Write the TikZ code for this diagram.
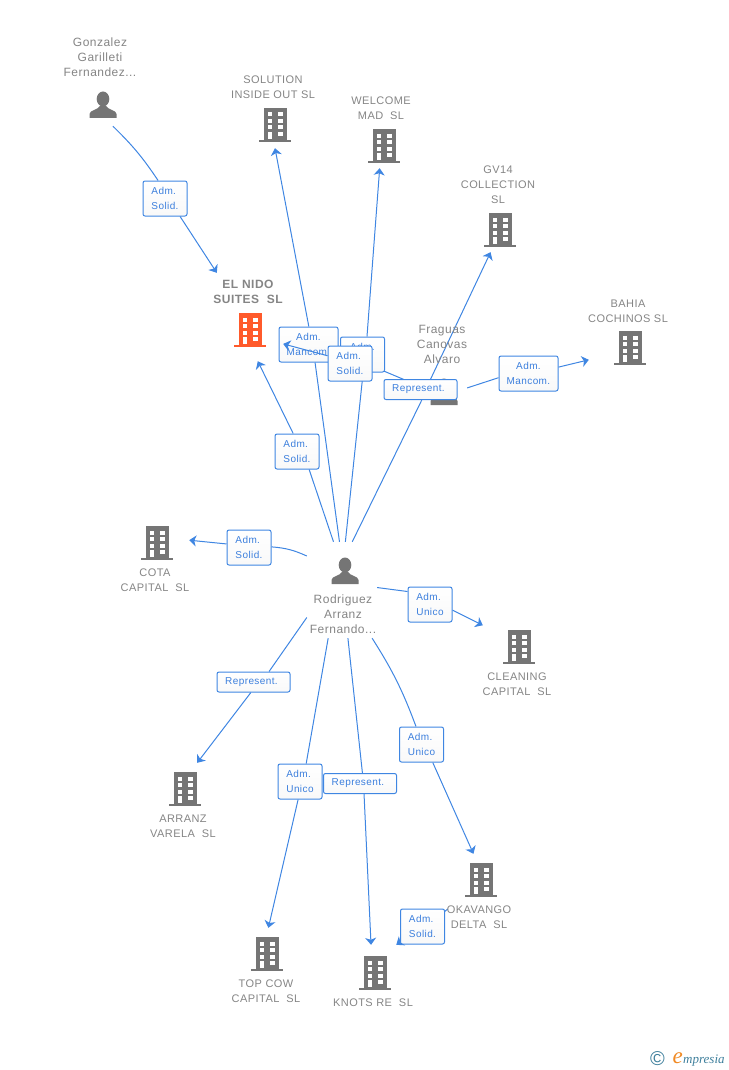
\documentclass[tikz,border=0pt]{standalone}
\usepackage{fontspec}
\setmainfont[LetterSpace=4]{Liberation Sans}
\newfontfamily\logofont{Liberation Serif}
\usetikzlibrary{arrows.meta}
\usetikzlibrary{backgrounds}
\definecolor{linkblue}{HTML}{3F86E2}
\definecolor{labelblue}{HTML}{3C7FDD}
\definecolor{icongray}{HTML}{757575}
\definecolor{textgray}{HTML}{858585}
\definecolor{iconred}{HTML}{FF5A2B}
\definecolor{logoteal}{HTML}{3E7F9C}
\definecolor{logoorange}{HTML}{F08A24}
\tikzset{
	link/.style={linkblue,line width=1pt},
	arrowlink/.style={link,-{Stealth[length=7pt,width=11pt,inset=2pt]}},
	tag/.style={draw=linkblue,line width=1pt,rounded corners=2pt,top color=white,bottom color=white!95!gray,text=labelblue,
		font=\fontsize{10}{15}\selectfont,align=left,inner sep=0pt,minimum width=44pt,minimum height=35pt},
	widetag/.style={tag,align=center,minimum width=59pt},
	onetag/.style={tag,align=center,minimum width=73pt,minimum height=20pt},
	box/.style 2 args={inner sep=0pt,minimum width=#1pt,minimum height=#2pt},
	company/.style={text=textgray,font=\fontsize{11}{15}\selectfont,align=center,inner sep=0pt},
	person/.style={text=textgray,font=\fontsize{12}{15}\selectfont,align=center,inner sep=0pt},
	pics/bldg/.style={code={
		\fill[#1] (-11.5,-17) rectangle (11.5,15);
		\fill[#1] (-16,15) rectangle (16,17);
		\foreach \wy in {-12.5,-6,0.5} {
			\fill[white] (-7.5,\wy) rectangle (-2.8,\wy+4);
			\fill[white] (2.8,\wy) rectangle (7.5,\wy+4);
		}
		\fill[white] (-7.5,6.8) rectangle (-2.8,14);
		\fill[white] (2.8,6.8) rectangle (7.5,10.8);
	}},
	pics/man/.style={code={
		\fill[icongray] (0,-6) ellipse (6.3 and 7.5);
		\fill[icongray] (-13.5,13) -- (-13.5,9) .. controls (-13.5,5) and (-5,5) .. (-3,1) -- (3,1) .. controls (5,5) and (13.5,5) .. (13.5,9) -- (13.5,13) -- cycle;
	}}
}
\begin{document}
\begin{tikzpicture}[x=1pt,y=-1pt]
	\useasboundingbox (0,0) rectangle (728,1070);

	\pic at (103,105) {man};
	\pic at (345,571) {man};
	\pic at (444,392) {man};
	\pic at (275,125) {bldg=icongray};
	\pic at (384,146) {bldg=icongray};
	\pic at (500,230) {bldg=icongray};
	\pic at (630,348) {bldg=icongray};
	\pic at (250,330) {bldg=iconred};
	\pic at (157,543) {bldg=icongray};
	\pic at (519,647) {bldg=icongray};
	\pic at (185,789) {bldg=icongray};
	\pic at (267,954) {bldg=icongray};
	\pic at (375,973) {bldg=icongray};
	\pic at (481,880) {bldg=icongray};

	\node[box={30}{42}] (Gonz) at (103,105) {};
	\node[box={70}{96}] (Rodr) at (342,590) {};
	\node[box={46}{24}] (Frag) at (444,392) {};
	\node[box={40}{46}] (Solution) at (275,125) {};
	\node[box={40}{44}] (Welcome) at (384,146) {};
	\node[box={40}{44}] (Gv14) at (500,230) {};
	\node[box={82}{44}] (Bahia) at (630,348) {};
	\node[box={66}{88}] (Nido) at (250,317) {};
	\node[box={64}{44}] (Cota) at (157,543) {};
	\node[box={72}{44}] (Cleaning) at (519,647) {};
	\node[box={40}{52}] (Arranz) at (185,789) {};
	\node[box={40}{52}] (Topcow) at (267,954) {};
	\node[box={50}{56}] (Knots) at (375,973) {};
	\node[box={66}{56}] (Okavango) at (481,882) {};

	\node[person] (TGonz) at (100,57) {Gonzalez\\Garilleti\\Fernandez...};
	\node[person] (TRodr) at (343,614) {Rodriguez\\Arranz\\Fernando...};
	\node[person] (TFrag) at (442,344) {Fraguas\\Canovas\\Alvaro};
	\node[company] (TSolution) at (273,87.5) {SOLUTION\\INSIDE OUT SL};
	\node[company] (TWelcome) at (381,108.5) {WELCOME\\MAD\ \ SL};
	\node[company] (TGv14) at (498,185) {GV14\\COLLECTION\\SL};
	\node[company] (TBahia) at (628,311.5) {BAHIA\\COCHINOS SL};
	\node[company,font=\fontsize{12}{15}\selectfont\bfseries] (TNido) at (248,291.5) {EL NIDO\\SUITES\ \ SL};
	\node[company] (TCota) at (155,580.5) {COTA\\CAPITAL\ \ SL};
	\node[company] (TCleaning) at (517,684.5) {CLEANING\\CAPITAL\ \ SL};
	\node[company] (TArranz) at (183,826.5) {ARRANZ\\VARELA\ \ SL};
	\node[company] (TTopcow) at (266,991.5) {TOP COW\\CAPITAL\ \ SL};
	\node[company] (TKnots) at (373,1003) {KNOTS RE\ \ SL};
	\node[company] (TOkavango) at (479,917.5) {OKAVANGO\\DELTA\ \ SL};

	\node[tag] (L1) at (165,198.5) {Adm.\\Solid.};
	\node[tag] (L2) at (297,451.5) {Adm.\\Solid.};
	\node[tag] (L3) at (249,547.5) {Adm.\\Solid.};
	\node[tag] (L4) at (430,604.5) {Adm.\\Unico};
	\node[onetag] (L5) at (253.5,682) {Represent.\hspace*{4pt}};
	\node[tag] (L6) at (300,781.5) {Adm.\\Unico};
	\node[onetag] (L7) at (360,783.5) {Represent.\hspace*{4pt}};
	\node[tag] (L8) at (421.5,744.5) {Adm.\\Unico};
	\node[tag] (L9) at (422.5,926.5) {Adm.\\Solid.};
	\node[widetag] (L10) at (528.5,373.5) {Adm.\\Mancom.};
	\node[widetag] (L11) at (308.5,344.5) {Adm.\\Mancom.};
	\node[tag] (L12) at (362.5,354.5) {Adm.\\~};
	\node[tag] (L13) at (350,363.5) {Adm.\\Solid.};
	\node[onetag] (L14) at (420.5,389.5) {Represent.\hspace*{4pt}};

	\node[inner sep=0pt,text=logoteal,font=\fontsize{20}{20}\selectfont] (Copy) at (657.5,1059) {\textcopyright};
	\node[inner sep=0pt,anchor=base west,text=logoteal,font=\fontsize{13}{13}\logofont\itshape] (Brand) at (683,1063) {mpresia};
	\node[inner sep=0pt,anchor=base east,text=logoorange,font=\fontsize{23}{23}\logofont\itshape] (Brande) at (Brand.base west) {e};

	\begin{scope}[on background layer]
		\draw[link] (Gonz.295.5) to[bend left=6] (L1.111.8);
		\draw[arrowlink] (L1.310.6) -- (Nido.north west);

		\draw[link] (Rodr.100.8) -- (L2.304.4);
		\draw[arrowlink] (L2.102.9) -- (Nido.280.3);

		\draw[link] (Rodr.93.7) -- (L11.290.4);
		\draw[arrowlink] (L11.89) -- (Solution.south);

		\draw[link] (Rodr.86.3) -- (L12.272.6);
		\draw[arrowlink] (L12.76.5) -- (Welcome.259.7);

		\draw[link] (Rodr.78) -- (L14.277);
		\draw[arrowlink] (L14.46.5) -- (Gv14.247.7);

		\draw[link] (Rodr.136.7) to[bend right=10] (L3);
		\draw[arrowlink] (L3.171) -- (Cota.5.4);

		\draw[link] (Rodr.4.9) -- (L4.150.4);
		\draw[arrowlink] (L4.346) -- (Cleaning.149.7);

		\draw[link] (Rodr.218.7) -- (L5.34.6);
		\draw[arrowlink] (L5.256) -- (Arranz.65.2);

		\draw[link] (Rodr.254.8) -- (L6.71.6);
		\draw[arrowlink] (L6.264.5) -- (Topcow.87.8);

		\draw[link] (Rodr.277) -- (L7.77);
		\draw[arrowlink] (L7.291) -- (Knots.98.7);

		\draw[link] (Rodr.302.6) to[bend left=6] (L8.107.4);
		\draw[arrowlink] (L8.302.6) -- (Okavango.105.9);

		\draw[link] (Okavango.219.3) -- (L9.34);
		\draw[arrowlink] (L9.center) -- (Knots.53.1);

		\draw[link] (Frag.10) -- (L10.188.7);
		\draw[arrowlink] (L10.12.4) -- (Bahia.196.3);

		\draw[link] (Frag.167.7) -- (L13.353.5);
	\end{scope}
	\draw[arrowlink] (L13.161.2) -- (Nido.321.8);
\end{tikzpicture}
\end{document}
